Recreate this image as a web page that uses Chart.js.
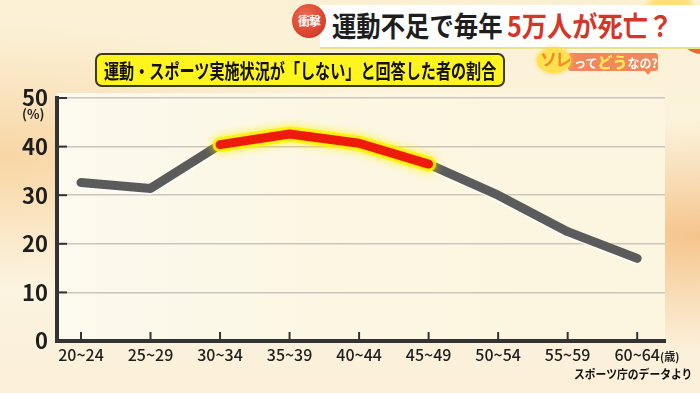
<!DOCTYPE html>
<html lang="ja">
<head>
<meta charset="utf-8">
<script src="https://cdn.jsdelivr.net/npm/chart.js@4.4.1/dist/chart.umd.min.js"></script>
<style>
  html, body { margin: 0; padding: 0; }
  body {
    width: 700px; height: 393px; overflow: hidden; position: relative;
    font-family: "Noto Sans CJK JP", "Noto Sans", sans-serif;
    background:
      radial-gradient(ellipse at 100% 60%, #f5c48c 0%, rgba(245,196,140,0) 35%),
      radial-gradient(ellipse at 0% 40%, #f8d6a4 0%, rgba(248,214,164,0) 40%),
      linear-gradient(180deg, #fbf0d4 0%, #fcf6e4 60%, #fbefd8 100%);
  }
  #wrap { position: absolute; left: 0; top: 0; width: 700px; height: 393px; }
  .title {
    position: absolute; left: 320px; top: 5px; width: 380px; height: 42px;
    background: #fff; border-bottom: 2px solid #e6e48a;
  }
  .title span {
    position: absolute; top: 0px; font-weight: 700; font-size: 28px; white-space: nowrap;
    transform-origin: left center;
  }
  .badge {
    position: absolute; left: 292px; top: 4px; width: 34px; height: 34px; border-radius: 50%;
    background: radial-gradient(circle at 40% 35%, #f06a50, #cc2a1c); color: #fff;
    font-size: 12px; font-weight: 700; line-height: 34px; text-align: center; letter-spacing: -1px;
  }
  .orb { position: absolute; left: 680px; top: 14px; width: 44px; height: 40px; border-radius: 50%;
    background: radial-gradient(circle at 35% 35%, #f7894a, #e8501e); }
  .sun { position: absolute; left: 640px; top: -10px; width: 60px; height: 60px; border-radius: 50%;
    background: radial-gradient(circle, #ffd84a 0%, rgba(255,216,74,0.6) 60%, rgba(255,216,74,0) 72%); }
  .label {
    position: absolute; left: 95px; top: 53px; width: 406px; height: 30px;
    background: #fff41c; border: 2px solid #3b3a14; border-radius: 7px;
  }
  .label span {
    position: absolute; left: 7px; top: 1px; font-size: 20px; font-weight: 700; color: #111;
    white-space: nowrap; transform: scaleX(0.755); transform-origin: left center;
  }
  .logo .blob { position: absolute; left: 537px; top: 48px; width: 34px; height: 25px; border-radius: 50%;
    background: #ffe04e; box-shadow: 0 0 5px #ffd23a; }
  .logo .blob span { position: absolute; left: 3px; top: -1px; font-size: 17px; font-weight: 700; color: #f08a2a;
    white-space: nowrap; letter-spacing: -2px; line-height: 24px; }
  .logo .pill { position: absolute; left: 568px; top: 53px; width: 90px; height: 18px; border-radius: 3px;
    background: #f2875a; color: #fff; font-size: 12px; font-weight: 700; line-height: 18px; padding-left: 6px;
    box-sizing: border-box; white-space: nowrap; }
  .logo .pill b { color: #ffe85a; font-size: 15px; }
  .logo .tail { position: absolute; left: 644px; top: 70px; width: 0; height: 0;
    border-left: 4px solid transparent; border-right: 4px solid transparent; border-top: 5px solid #f2875a; }
  .pct { position: absolute; left: 22px; top: 104px; font-size: 13px; font-weight: 700; color: #222; }
  .sai { position: absolute; left: 660px; top: 348px; font-size: 11px; font-weight: 700; color: #222; }
  .src { position: absolute; left: 574px; top: 365px; font-size: 12px; font-weight: 700; color: #111;
    transform: scaleX(0.9); transform-origin: left center; white-space: nowrap; }
</style>
</head>
<body>
<div id="wrap"><canvas id="chart" width="700" height="393"></canvas></div>
<div class="sun"></div>
<div class="orb"></div>
<div class="title">
  <span style="left:12px;color:#1e1e1e;transform:scaleX(0.87);">運動不足で毎年</span>
  <span style="left:187px;color:#d4372a;transform:scaleX(0.9);">5万人が死亡？</span>
</div>
<div class="badge">衝撃</div>
<div class="label"><span>運動・スポーツ実施状況が「しない」と回答した者の割合</span></div>
<div class="logo">
  <div class="pill">って<b>どう</b>なの?</div>
  <div class="tail"></div>
  <div class="blob"><span>ソレ</span></div>
</div>
<div class="pct">(%)</div>
<div class="sai">(歳)</div>
<div class="src">スポーツ庁のデータより</div>

<script>
const ageGroups = ['20~24', '25~29', '30~34', '35~39', '40~44', '45~49', '50~54', '55~59', '60~64'];
const noSportRate = [32.6, 31.4, 40.4, 42.6, 40.7, 36.4, 30.0, 22.5, 17.0];
// highlighted ages: 30~34 through 45~49
const highlightIdx = [2, 3, 4, 5];
const yTicks = [0, 10, 20, 30, 40, 50];

const grayPoints = noSportRate.map((v, i) => ({ x: i, y: v }));
const redPoints = highlightIdx.map(i => ({ x: i, y: noSportRate[i] }));

// glow / outline for each line
const glowPlugin = {
  id: 'glow',
  beforeDatasetDraw(chart, args) {
    const ds = chart.data.datasets[args.index];
    const ctx = chart.ctx;
    ctx.save();
    ctx.shadowColor = ds.glowColor;
    ctx.shadowBlur = ds.glowBlur;
    ctx.shadowOffsetY = ds.glowOffset || 0;
  },
  afterDatasetDraw(chart) {
    chart.ctx.restore();
  }
};

// plot background + inward tick marks
const frame = {
  id: 'frame',
  beforeDraw(chart) {
    const { ctx, chartArea: a } = chart;
    const g = ctx.createLinearGradient(a.left, 0, a.right, 0);
    g.addColorStop(0, '#fcf9ee');
    g.addColorStop(0.5, '#fcf7e2');
    g.addColorStop(1, '#fcf5e0');
    ctx.save();
    ctx.fillStyle = g;
    ctx.fillRect(a.left, a.top - 5, a.right - a.left, a.bottom - a.top + 5);
    ctx.restore();
  },
  afterDraw(chart) {
    const { ctx, chartArea: a, scales } = chart;
    ctx.save();
    ctx.strokeStyle = '#333';
    ctx.lineWidth = 2;
    ageGroups.forEach((_, i) => {
      const x = scales.x.getPixelForValue(i);
      ctx.beginPath();
      ctx.moveTo(x, a.bottom);
      ctx.lineTo(x, a.bottom - 9);
      ctx.stroke();
    });
    yTicks.forEach(t => {
      if (t === 0) return;
      const y = scales.y.getPixelForValue(t);
      ctx.beginPath();
      ctx.moveTo(a.left, y);
      ctx.lineTo(a.left + 10, y);
      ctx.stroke();
    });
    ctx.restore();
  }
};

const lineStyle = {
  pointRadius: 0,
  borderCapStyle: 'round',
  borderJoinStyle: 'round'
};

new Chart(document.getElementById('chart'), {
  type: 'line',
  data: {
    datasets: [
      {
        ...lineStyle,
        data: redPoints,
        borderColor: '#ee1a0c',
        borderWidth: 9,
        glowColor: 'rgba(255,240,0,0.9)',
        glowBlur: 4,
        order: 0
      },
      {
        ...lineStyle,
        data: redPoints,
        borderColor: 'rgba(255,242,0,0.85)',
        borderWidth: 15,
        glowColor: '#fff200',
        glowBlur: 10,
        order: 1
      },
      {
        ...lineStyle,
        data: grayPoints,
        borderColor: '#5b5b5b',
        borderWidth: 9,
        glowColor: 'rgba(255,255,255,0.95)',
        glowBlur: 2,
        glowOffset: 1.5,
        order: 2
      }
    ]
  },
  options: {
    responsive: false,
    animation: false,
    layout: { padding: { top: 98, right: 35, left: 0, bottom: 0 } },
    plugins: { legend: { display: false }, tooltip: { enabled: false } },
    scales: {
      x: {
        type: 'linear',
        min: -0.345,
        max: 8.4,
        afterBuildTicks(scale) {
          scale.ticks = ageGroups.map((_, i) => ({ value: i }));
        },
        afterFit(scale) { scale.height = 52; },
        ticks: {
          autoSkip: false,
          maxRotation: 0,
          padding: 4,
          color: '#1e1e1e',
          font: { family: '"Noto Sans CJK JP", sans-serif', size: 16, weight: '500' },
          callback: v => ageGroups[v]
        },
        grid: { display: false, drawTicks: false },
        border: { display: true, color: '#333', width: 4 }
      },
      y: {
        min: 0,
        max: 50,
        afterBuildTicks(scale) {
          scale.ticks = yTicks.map(v => ({ value: v }));
        },
        afterFit(scale) { scale.width = 57; },
        ticks: {
          padding: 9,
          color: '#1e1e1e',
          font: { family: '"Noto Sans CJK JP", sans-serif', size: 22, weight: '700' }
        },
        grid: { color: '#c9c6bd', lineWidth: 1.5, drawTicks: false },
        border: { display: true, color: '#333', width: 4 }
      }
    }
  },
  plugins: [frame, glowPlugin]
});
</script>
</body>
</html>
